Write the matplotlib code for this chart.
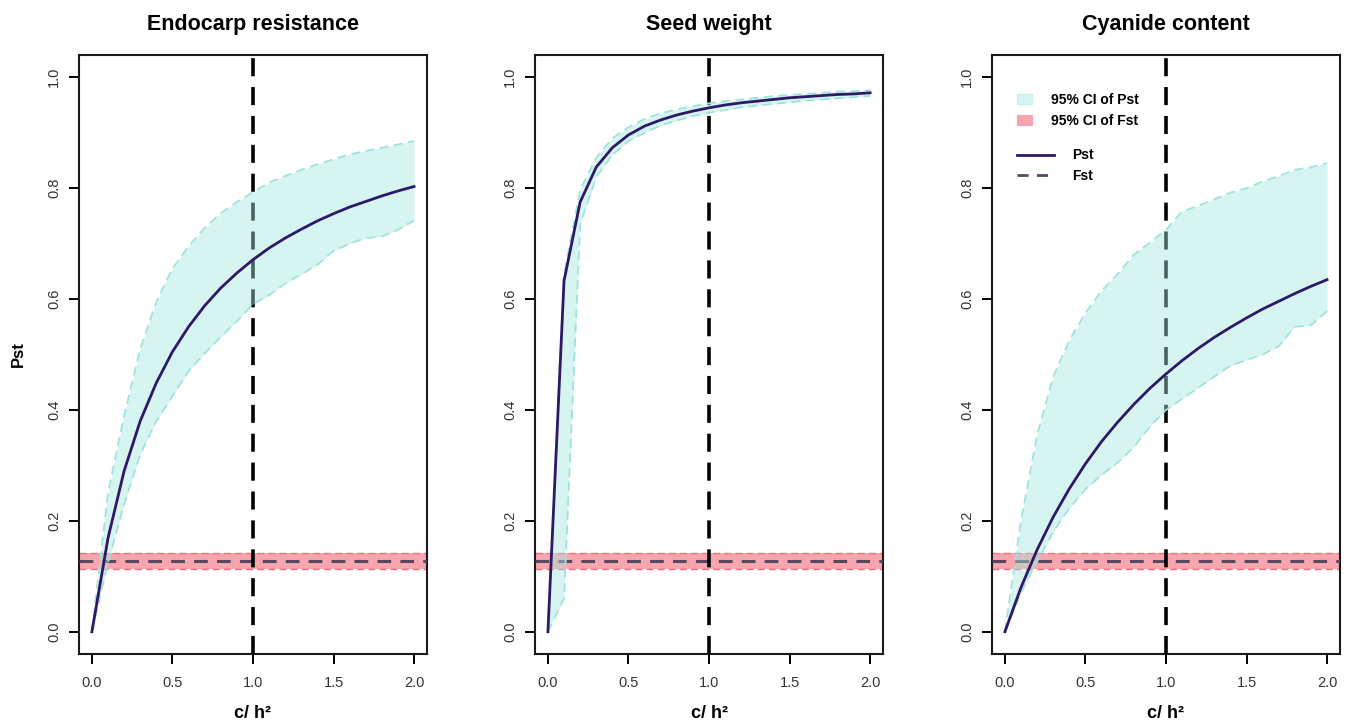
import matplotlib
matplotlib.use("Agg")
import matplotlib.pyplot as plt
from matplotlib.patches import Patch
from matplotlib.lines import Line2D

plt.rcParams['font.family'] = ['Liberation Sans', 'DejaVu Sans']

# c/h2 ratios where Pst was evaluated
ratio = [0.0, 0.1, 0.2, 0.3, 0.4, 0.5, 0.6, 0.7, 0.8, 0.9, 1.0,
         1.1, 1.2, 1.3, 1.4, 1.5, 1.6, 1.7, 1.8, 1.9, 2.0]

traits = ["Endocarp resistance", "Seed weight", "Cyanide content"]

# Pst point estimates and 95% CI bounds, one list per trait
pst_endocarp = [0.0, 0.169, 0.290, 0.380, 0.449, 0.505, 0.550, 0.588, 0.620, 0.647, 0.671,
                0.692, 0.710, 0.726, 0.741, 0.754, 0.766, 0.776, 0.786, 0.795, 0.803]
hi_endocarp = [0.0, 0.250, 0.390, 0.510, 0.595, 0.655, 0.695, 0.728, 0.755, 0.775, 0.793,
               0.810, 0.822, 0.833, 0.843, 0.852, 0.861, 0.867, 0.873, 0.879, 0.885]
lo_endocarp = [0.0, 0.125, 0.230, 0.320, 0.380, 0.425, 0.470, 0.502, 0.532, 0.560, 0.591,
               0.607, 0.628, 0.645, 0.662, 0.687, 0.700, 0.710, 0.713, 0.725, 0.742]

pst_seed = [0.0, 0.633, 0.775, 0.838, 0.873, 0.896, 0.912, 0.923, 0.932, 0.939, 0.945,
            0.950, 0.954, 0.957, 0.960, 0.963, 0.965, 0.967, 0.969, 0.970, 0.972]
hi_seed = [0.0, 0.645, 0.797, 0.855, 0.890, 0.910, 0.925, 0.935, 0.942, 0.948, 0.953,
           0.957, 0.960, 0.963, 0.966, 0.968, 0.970, 0.972, 0.974, 0.975, 0.977]
lo_seed = [0.0, 0.060, 0.735, 0.820, 0.860, 0.885, 0.900, 0.913, 0.922, 0.930, 0.936,
           0.941, 0.946, 0.949, 0.952, 0.955, 0.958, 0.960, 0.962, 0.964, 0.966]

pst_cyanide = [0.0, 0.080, 0.148, 0.207, 0.258, 0.303, 0.343, 0.378, 0.410, 0.439, 0.465,
               0.489, 0.511, 0.531, 0.549, 0.566, 0.582, 0.596, 0.610, 0.623, 0.635]
hi_cyanide = [0.0, 0.200, 0.355, 0.460, 0.525, 0.575, 0.615, 0.645, 0.680, 0.702, 0.725,
              0.758, 0.768, 0.780, 0.792, 0.800, 0.812, 0.822, 0.833, 0.838, 0.845]
lo_cyanide = [0.0, 0.070, 0.128, 0.180, 0.223, 0.257, 0.283, 0.305, 0.333, 0.370, 0.400,
              0.420, 0.440, 0.460, 0.480, 0.490, 0.500, 0.515, 0.550, 0.553, 0.578]

pst = [pst_endocarp, pst_seed, pst_cyanide]
pst_hi = [hi_endocarp, hi_seed, hi_cyanide]
pst_lo = [lo_endocarp, lo_seed, lo_cyanide]

# neutral differentiation
fst_mean = 0.128
fst_lo = 0.114
fst_hi = 0.142

pst_fill = '#a3e8dd'
pst_edge = '#9fe3dc'
fst_fill = '#ee2135'
fst_edge = '#f26d7d'
pst_col = '#2e1868'
fst_col = '#5b4660'

fig = plt.figure(figsize=(13.46, 7.25), dpi=100)
lefts = [0.0587, 0.3975, 0.737]

for i, name in enumerate(traits):
    ax = fig.add_axes([lefts[i], 0.098, 0.2585, 0.826])

    ax.axhspan(fst_lo, fst_hi, color=fst_fill, alpha=0.4, lw=0, zorder=1)
    ax.axhline(fst_lo, color=fst_edge, ls=(0, (5, 3)), lw=1.0, zorder=2)
    ax.axhline(fst_hi, color=fst_edge, ls=(0, (5, 3)), lw=1.0, zorder=2)
    ax.axhline(fst_mean, color=fst_col, ls=(0, (4.5, 3)), lw=2.2, zorder=3)
    ax.axvline(1.0, color='black', ls=(0, (5, 3)), lw=2.6, zorder=3)

    ax.fill_between(ratio, pst_lo[i], pst_hi[i], color=pst_fill, alpha=0.43,
                    lw=0, zorder=4)
    ax.plot(ratio, pst_hi[i], color=pst_edge, ls=(0, (5, 3)), lw=1.3, zorder=5)
    ax.plot(ratio, pst_lo[i], color=pst_edge, ls=(0, (5, 3)), lw=1.3, zorder=5)
    ax.plot(ratio, pst[i], color=pst_col, lw=2.0, zorder=6)

    ax.set_xlim(-0.08, 2.08)
    ax.set_ylim(-0.04, 1.04)
    ax.set_xticks([0.0, 0.5, 1.0, 1.5, 2.0])
    ax.set_yticks([0.0, 0.2, 0.4, 0.6, 0.8, 1.0])
    ax.set_xticklabels(['0.0', '0.5', '1.0', '1.5', '2.0'])
    ax.set_yticklabels(['0.0', '0.2', '0.4', '0.6', '0.8', '1.0'],
                       rotation=90, va='center')
    ax.tick_params(direction='out', length=7, width=1.4, labelsize=10.5,
                   labelcolor='#333333', pad=6)
    ax.tick_params(axis='x', pad=9)
    for sp in ax.spines.values():
        sp.set_linewidth(1.5)
        sp.set_color('#1a1a1a')

    ax.set_title(name, fontsize=15.5, fontweight='bold', pad=18)
    ax.set_xlabel('c/ h²', fontsize=13, fontweight='bold', labelpad=11)
    if i == 0:
        ax.set_ylabel('Pst', fontsize=12, fontweight='bold', labelpad=15)

    if i == 2:
        ci_handles = [Patch(facecolor=pst_fill, alpha=0.43, edgecolor=pst_edge, lw=1.0),
                      Patch(facecolor=fst_fill, alpha=0.4, edgecolor=fst_edge, lw=1.0)]
        leg1 = ax.legend(ci_handles, ['95% CI of Pst', '95% CI of Fst'],
                         loc='upper left', bbox_to_anchor=(0.035, 0.958),
                         frameon=False, handlelength=1.1, handleheight=0.75,
                         handletextpad=1.4, labelspacing=0.5,
                         prop={'size': 10, 'weight': 'bold'})
        ax.add_artist(leg1)
        line_handles = [Line2D([], [], color=pst_col, lw=2.0),
                        Line2D([], [], color=fst_col, lw=2.0, ls=(0, (4, 3)))]
        ax.legend(line_handles, ['Pst', 'Fst'],
                  loc='upper left', bbox_to_anchor=(0.035, 0.865),
                  frameon=False, handlelength=2.7,
                  handletextpad=1.3, labelspacing=0.45,
                  prop={'size': 10, 'weight': 'bold'})

fig.savefig('out.png', dpi=100)
